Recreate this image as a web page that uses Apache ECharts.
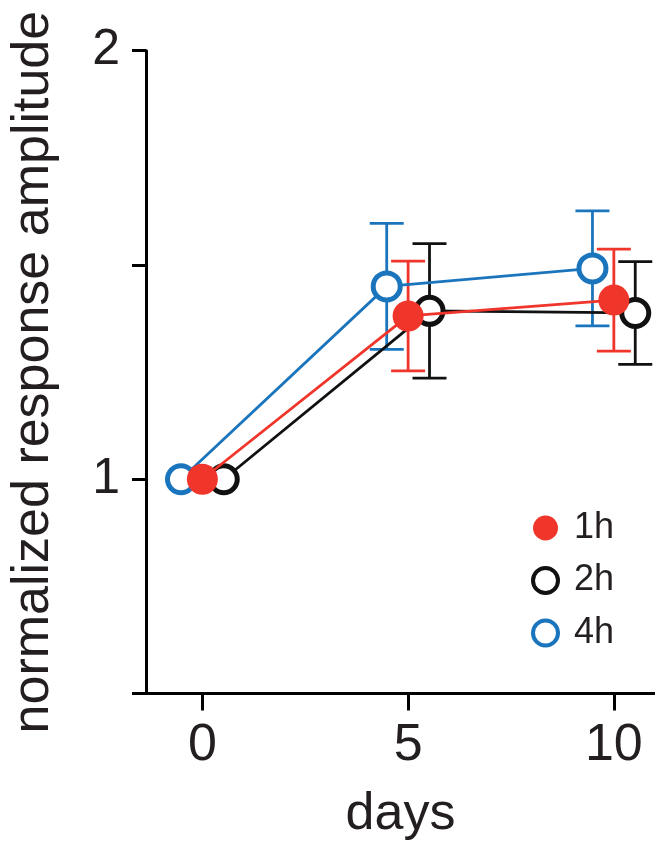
<!DOCTYPE html>
<html>
<head>
<meta charset="utf-8">
<script src="https://cdn.jsdelivr.net/npm/echarts@6/dist/echarts.min.js"></script>
<style>html,body{margin:0;padding:0;background:#fff;}#c{width:655px;height:853px;}</style>
</head>
<body>
<div id="c"></div>
<script>
const days = [0, 5, 10];
const seriesNames = ['1h', '2h', '4h'];
const mean1h = [1.0, 1.381, 1.418];
const sem1h  = [0, 0.128, 0.119];
const mean2h = [1.0, 1.393, 1.388];
const sem2h  = [0, 0.157, 0.120];
const mean4h = [1.0, 1.450, 1.492];
const sem4h  = [0, 0.147, 0.134];
const xTickValues = [0, 5, 10];
const yTickLabels = [1, 2];

const FONT = "'Liberation Sans', Arial, Helvetica, sans-serif";
const TXT = '#231f20';
const RED = '#f0352a', BLACK = '#111111', BLUE = '#1b75bc';

const groups = [
  {name: seriesNames[0], mean: mean1h, sem: sem1h, off: 0,    color: RED,   filled: true,  z: 6},
  {name: seriesNames[1], mean: mean2h, sem: sem2h, off: 0.52, color: BLACK, filled: false, z: 4},
  {name: seriesNames[2], mean: mean4h, sem: sem4h, off: -0.52, color: BLUE, filled: false, z: 5}
];

const series = [];
groups.forEach(g => {
  const errData = [];
  days.forEach((d, i) => { if (g.sem[i] > 0) errData.push([d + g.off, g.mean[i] - g.sem[i], g.mean[i] + g.sem[i]]); });
  series.push({
    type: 'custom',
    name: g.name + '_err',
    z: 1,
    silent: true,
    data: errData,
    renderItem: function (params, api) {
      const x = api.value(0), lo = api.value(1), hi = api.value(2);
      const pLo = api.coord([x, lo]), pHi = api.coord([x, hi]);
      const hw = 17;
      const st = {stroke: g.color, lineWidth: 2.8};
      return {type: 'group', children: [
        {type: 'line', shape: {x1: pLo[0], y1: pLo[1], x2: pHi[0], y2: pHi[1]}, style: st},
        {type: 'line', shape: {x1: pLo[0] - hw, y1: pLo[1], x2: pLo[0] + hw, y2: pLo[1]}, style: st},
        {type: 'line', shape: {x1: pHi[0] - hw, y1: pHi[1], x2: pHi[0] + hw, y2: pHi[1]}, style: st}
      ]};
    }
  });
});
groups.forEach(g => {
  series.push({
    type: 'line',
    name: g.name,
    z: g.z,
    data: days.map((d, i) => [d + g.off, g.mean[i]]),
    symbol: 'circle',
    symbolSize: g.filled ? 31 : 27,
    showAllSymbol: true,
    lineStyle: {color: g.color, width: 2.8},
    itemStyle: g.filled ? {color: g.color, borderWidth: 0} : {color: '#ffffff', borderColor: g.color, borderWidth: 5},
    emphasis: {disabled: true},
    animation: false
  });
});

const chart = echarts.init(document.getElementById('c'), null, {renderer: 'canvas'});
chart.setOption({
  animation: false,
  backgroundColor: '#ffffff',
  grid: {left: 141, right: 0, top: 50.7, bottom: 159.5, containLabel: false},
  legend: {
    orient: 'vertical',
    left: 526,
    top: 505,
    icon: 'circle',
    itemWidth: 25,
    itemHeight: 25,
    itemGap: 16.5,
    data: [
      {name: '1h', itemStyle: {color: RED, borderWidth: 0}},
      {name: '2h', itemStyle: {color: '#ffffff', borderColor: BLACK, borderWidth: 4}},
      {name: '4h', itemStyle: {color: '#ffffff', borderColor: BLUE, borderWidth: 4}}
    ],
    textStyle: {fontFamily: FONT, fontSize: 36, color: TXT, lineHeight: 35, padding: [0, 0, 0, 11]}
  },
  xAxis: {
    type: 'value',
    min: -1.37,
    max: 11,
    name: 'days',
    nameLocation: 'middle',
    nameGap: 95,
    nameTextStyle: {fontFamily: FONT, fontSize: 52, color: TXT},
    axisLine: {onZero: false, lineStyle: {color: '#000', width: 3}},
    axisTick: {show: true, length: 17, lineStyle: {color: '#000', width: 3}, customValues: xTickValues},
    axisLabel: {fontFamily: FONT, fontSize: 52, color: TXT, margin: 26, customValues: xTickValues},
    splitLine: {show: false}
  },
  yAxis: {
    type: 'value',
    min: 0.5,
    max: 2,
    interval: 0.5,
    name: 'normalized response amplitude',
    nameLocation: 'middle',
    nameGap: 86,
    nameTextStyle: {fontFamily: FONT, fontSize: 52, color: TXT},
    axisLine: {show: true, onZero: false, lineStyle: {color: '#000', width: 3}},
    axisTick: {show: true, length: 14, lineStyle: {color: '#000', width: 3}},
    axisLabel: {fontFamily: FONT, fontSize: 50, color: TXT, margin: 26, customValues: yTickLabels},
    splitLine: {show: false}
  },
  series: series
});
</script>
</body>
</html>
